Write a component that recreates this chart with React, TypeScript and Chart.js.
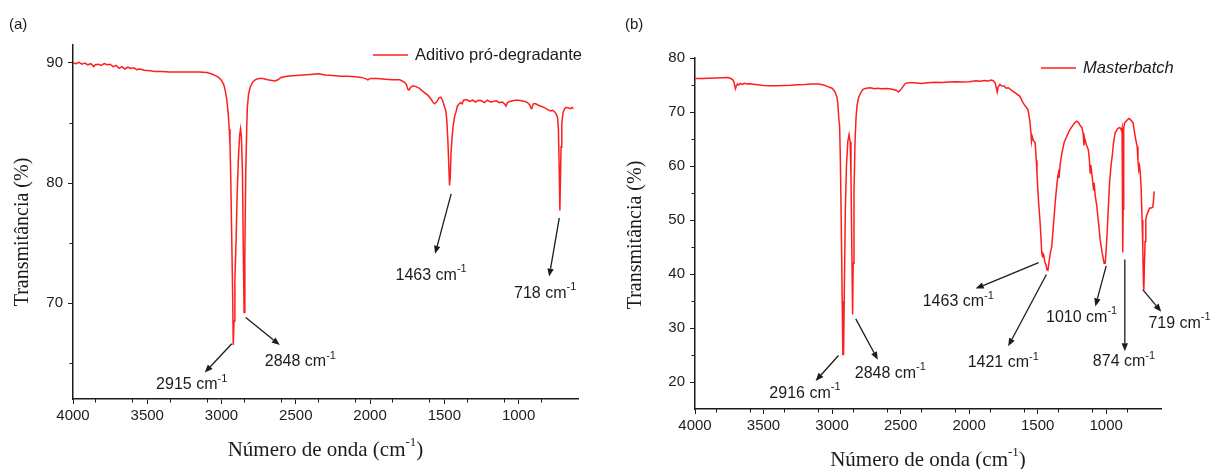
import React, { useEffect, useRef } from "react";
import { Chart, registerables } from "chart.js";

Chart.register(...registerables);

// ---------- Panel (a): Aditivo pró-degradante ----------
const waveA = [
  4000, 3980, 3960, 3940, 3920, 3900, 3880, 3860, 3850, 3830, 3810, 3790, 3770, 3750, 3730, 3710,
  3690, 3670, 3650, 3630, 3610, 3590, 3570, 3550, 3520, 3480, 3450, 3400, 3350, 3300, 3250, 3200,
  3150, 3100, 3070, 3040, 3020, 3000, 2985, 2975, 2965, 2955, 2948, 2943, 2938, 2931, 2925, 2921,
  2916, 2910, 2902, 2895, 2886, 2878, 2872, 2866, 2859, 2853, 2848, 2843, 2837, 2830, 2826, 2818,
  2807, 2790, 2774, 2750, 2720, 2690, 2660, 2640, 2620, 2600, 2560, 2500, 2450, 2400, 2350, 2300,
  2250, 2200, 2150, 2100, 2060, 2030, 2015, 2000, 1950, 1900, 1850, 1800, 1770, 1755, 1745, 1738,
  1725, 1710, 1695, 1670, 1640, 1610, 1590, 1575, 1565, 1550, 1535, 1524, 1512, 1500, 1490, 1483,
  1476, 1470, 1465, 1460, 1455, 1448, 1440, 1430, 1422, 1412, 1400, 1390, 1380, 1370, 1350, 1330,
  1310, 1290, 1270, 1250, 1230, 1210, 1190, 1170, 1150, 1130, 1110, 1095, 1085, 1075, 1060, 1040,
  1020, 1000, 980, 960, 940, 925, 915, 910, 900, 885, 870, 850, 830, 815, 800, 785,
  770, 755, 745, 737, 732, 727, 722, 718, 714, 709, 700, 690, 680, 665, 650, 640,
  635,
];
const transA = [
  90.0, 89.95, 90.05, 89.9, 90.0, 89.85, 89.95, 89.7, 89.85, 89.9, 89.8, 89.95, 89.85, 89.9, 89.7, 89.8,
  89.55, 89.7, 89.5, 89.65, 89.55, 89.6, 89.45, 89.5, 89.4, 89.35, 89.3, 89.3, 89.25, 89.25, 89.25, 89.25,
  89.25, 89.2, 89.1, 88.95, 88.8, 88.55, 88.2, 87.7, 87.0, 85.8, 84.5, 83.2, 80.5, 75.2, 70.5, 66.5,
  68.5, 72.0, 75.2, 79.0, 82.2, 84.0, 84.5, 83.8, 80.8, 74.0, 69.2, 74.0, 80.8, 84.8, 86.3, 87.4,
  88.0, 88.4, 88.6, 88.7, 88.7, 88.6, 88.55, 88.5, 88.6, 88.8, 88.9, 88.95, 89.0, 89.05, 89.1, 89.0,
  88.95, 88.9, 88.9, 88.85, 88.8, 88.7, 88.6, 88.7, 88.7, 88.65, 88.6, 88.6, 88.4, 88.2, 87.8, 87.75,
  88.0, 88.1, 88.05, 87.9, 87.6, 87.3, 87.0, 86.7, 86.6, 86.8, 87.1, 87.15, 86.9, 86.4, 86.0, 85.2,
  83.5, 81.5, 79.8, 80.5, 82.5, 83.8, 84.8, 85.6, 85.9, 86.4, 86.6, 86.7, 86.6, 86.9, 86.95, 86.8,
  86.9, 86.75, 86.9, 86.85, 86.7, 86.9, 86.75, 86.8, 86.85, 86.7, 86.75, 86.6, 86.4, 86.7, 86.8, 86.85,
  86.9, 86.9, 86.85, 86.8, 86.7, 86.5, 86.2, 86.3, 86.6, 86.6, 86.5, 86.4, 86.3, 86.2, 86.1, 86.0,
  86.05, 85.9, 85.7, 85.4, 84.5, 81.5, 77.7, 80.5, 83.0, 85.0, 85.9, 86.2, 86.3, 86.25, 86.2, 86.3,
  86.25,
];

// ---------- Panel (b): Masterbatch ----------
const waveB = [
  4000, 3950, 3900, 3850, 3800, 3760, 3740, 3725, 3715, 3705, 3698, 3690, 3680, 3670, 3655, 3640,
  3620, 3600, 3560, 3500, 3450, 3400, 3350, 3300, 3250, 3200, 3150, 3100, 3060, 3030, 3000, 2980,
  2965, 2958, 2950, 2945, 2940, 2933, 2926, 2921, 2916, 2910, 2903, 2895, 2885, 2876, 2868, 2862,
  2856, 2850, 2846, 2840, 2833, 2825, 2817, 2805, 2790, 2775, 2750, 2720, 2690, 2665, 2640, 2600,
  2560, 2530, 2515, 2500, 2480, 2465, 2440, 2400, 2350, 2300, 2250, 2200, 2150, 2100, 2050, 2000,
  1950, 1920, 1890, 1860, 1840, 1824, 1810, 1800, 1795, 1788, 1775, 1760, 1745, 1730, 1714, 1690,
  1660, 1630, 1606, 1590, 1570, 1558, 1550, 1545, 1540, 1532, 1518, 1510, 1505, 1495, 1482, 1470,
  1465, 1462, 1455, 1448, 1440, 1432, 1425, 1418, 1410, 1397, 1385, 1372, 1360, 1352, 1348, 1344,
  1335, 1323, 1305, 1287, 1270, 1250, 1230, 1214, 1200, 1190, 1177, 1168, 1162, 1158, 1145, 1130,
  1122, 1117, 1112, 1100, 1092, 1088, 1080, 1068, 1056, 1044, 1030, 1015, 1007, 1000, 992, 985,
  975, 965, 956, 948, 935, 920, 905, 895, 888, 884, 880, 878, 876, 872, 865, 855,
  840, 832, 820, 810, 803, 795, 785, 774, 768, 762, 757, 752, 745, 738, 733, 728,
  725, 721, 716, 711, 705, 695, 683, 670, 660, 655, 650,
];
const transB = [
  76.2, 76.2, 76.25, 76.3, 76.35, 76.4, 76.2, 76.0, 75.5, 74.3, 74.8, 75.2, 75.0, 75.3, 75.1, 75.3,
  75.2, 75.25, 75.1, 74.9, 74.85, 74.85, 74.9, 74.95, 75.05, 75.1, 75.2, 75.2, 75.0, 74.7, 74.4, 73.8,
  72.8, 71.5, 68.5, 67.5, 62.0, 50.0, 35.0, 25.1, 25.1, 38.0, 52.0, 60.0, 64.5, 65.8, 64.5, 58.0,
  45.0, 32.5, 42.0, 55.0, 64.0, 69.0, 71.3, 72.8, 73.6, 74.2, 74.4, 74.5, 74.3, 74.4, 74.3, 74.35,
  74.2, 74.0, 73.7, 74.1, 74.8, 75.3, 75.4, 75.4, 75.3, 75.4, 75.5, 75.45, 75.55, 75.6, 75.55, 75.6,
  75.8, 75.7, 75.85, 75.75, 75.9, 75.8, 75.4, 74.3, 73.7, 74.6, 75.1, 74.8, 74.8, 74.4, 74.5, 74.0,
  73.5, 72.9, 71.7, 71.1, 70.4, 68.5, 66.5, 64.6, 65.5, 64.8, 64.3, 61.0, 58.7, 54.0, 49.5, 44.0,
  43.2, 43.8, 43.5, 42.2, 41.8, 40.8, 40.7, 42.0, 43.5, 45.1, 49.0, 53.2, 56.5, 58.2, 58.7, 57.8,
  60.5, 62.4, 64.5, 65.5, 66.5, 67.3, 68.0, 68.3, 68.0, 67.5, 67.1, 66.0, 63.8, 65.2, 64.0, 63.0,
  61.0, 58.7, 60.2, 57.5, 55.5, 56.9, 54.5, 52.5, 49.5, 46.4, 44.0, 42.0, 42.0, 44.5, 48.0, 52.0,
  57.0, 60.0, 61.8, 64.0, 66.1, 66.8, 67.1, 67.0, 66.5, 67.0, 52.0, 44.0, 52.0, 67.0, 68.0, 68.3,
  68.7, 68.8, 68.5, 68.2, 67.9, 66.5, 65.0, 63.6, 61.0, 59.3, 60.0, 59.0, 56.0, 50.0, 45.0, 38.0,
  37.1, 42.0, 46.0, 50.0, 50.8, 51.5, 52.2, 52.2, 52.4, 53.5, 55.3,
];

// ---------- Tick labels ----------
const xTickValues = [4000, 3500, 3000, 2500, 2000, 1500, 1000];
const yTickValuesA = [70, 80, 90];
const yTickValuesB = [20, 30, 40, 50, 60, 70, 80];

// ---------- Peak annotations (data coordinates: wavenumber, transmittance) ----------
const peaksA = ["2915", "2848", "1463", "718"];
const arrowFromA = [[2931, 66.6], [2837, 68.8], [1454, 79.1], [726, 77.1]];
const arrowToA = [[3113, 64.2], [2608, 66.5], [1562, 74.1], [794, 72.2]];
const textAtA = [[3201, 63.2], [2469, 65.1], [1589, 72.3], [821, 70.8]];

const peaksB = ["2916", "2848", "1463", "1421", "1010", "874", "719"];
const arrowFromB = [[2953, 24.9], [2827, 31.7], [1493, 42.1], [1436, 39.9], [1000, 41.5], [864, 42.7], [733, 37.1]];
const arrowToB = [[3120, 20.2], [2666, 24.1], [1952, 37.3], [1715, 26.6], [1079, 34.0], [864, 25.7], [598, 33.0]];
const textAtB = [[3198, 17.9], [2575, 21.6], [2079, 34.8], [1751, 23.6], [1179, 32.0], [870, 23.8], [465, 30.9]];

const xRange = [600, 4000];
const yRangeA = [62, 91.5];
const yRangeB = [15, 80];

const SANS = '"Liberation Sans", Arial, sans-serif';
const SERIF = '"Liberation Serif", "Times New Roman", serif';
const RED = "#ff1e1e";
const INK = "#1c1c1c";

type Pt = number[];
type PanelCfg = {
  key: string;
  left: number;
  width: number;
  letter: string;
  letterX: number;
  legend: string;
  legendItalic: boolean;
  legendX: number;
  legendY: number;
  yAxisWidth: number;
  xAxisHeight: number;
  padTop: number;
  padRight: number;
  yMin: number;
  yMax: number;
  yTicks: number[];
  yMinorStep: number;
  yMajorStep: number;
  yTitleX: number;
  yTitleY: number;
  xTitleY: number;
  waves: number[];
  values: number[];
  peaks: string[];
  from: Pt[];
  to: Pt[];
  text: Pt[];
};

function drawParts(
  ctx: CanvasRenderingContext2D,
  parts: { t: string; size: number; rise: number; italic?: boolean }[],
  family: string,
  cx: number,
  cy: number
) {
  const widths = parts.map((p) => {
    ctx.font = `${p.italic ? "italic " : ""}${p.size}px ${family}`;
    return ctx.measureText(p.t).width;
  });
  const total = widths.reduce((a, b) => a + b, 0);
  let x = cx - total / 2;
  ctx.textAlign = "left";
  ctx.textBaseline = "middle";
  parts.forEach((p, i) => {
    ctx.font = `${p.italic ? "italic " : ""}${p.size}px ${family}`;
    ctx.fillText(p.t, x, cy - p.rise);
    x += widths[i];
  });
}

function makeOverlay(p: PanelCfg) {
  return {
    id: "overlay_" + p.key,
    afterDraw(chart: any) {
      const { ctx, chartArea: ca } = chart;
      const xs = chart.scales.x;
      const ys = chart.scales.y;
      ctx.save();
      ctx.strokeStyle = INK;
      ctx.fillStyle = INK;
      ctx.lineWidth = 1;

      // minor ticks
      for (let v = xRange[0]; v <= xRange[1]; v += 250) {
        if (v % 500 === 0 || v <= xRange[0]) continue;
        const px = Math.round(xs.getPixelForValue(v)) + 0.5;
        ctx.beginPath();
        ctx.moveTo(px, ca.bottom);
        ctx.lineTo(px, ca.bottom + 3.5);
        ctx.stroke();
      }
      const yStart = Math.ceil(p.yMin / p.yMinorStep) * p.yMinorStep;
      for (let v = yStart; v < p.yMax; v += p.yMinorStep) {
        if (v % p.yMajorStep === 0 || v <= p.yMin) continue;
        const py = Math.round(ys.getPixelForValue(v)) + 0.5;
        ctx.beginPath();
        ctx.moveTo(ca.left - 3.5, py);
        ctx.lineTo(ca.left, py);
        ctx.stroke();
      }

      // arrows
      ctx.lineWidth = 1.3;
      p.peaks.forEach((_, i) => {
        const x0 = xs.getPixelForValue(p.from[i][0]);
        const y0 = ys.getPixelForValue(p.from[i][1]);
        const x1 = xs.getPixelForValue(p.to[i][0]);
        const y1 = ys.getPixelForValue(p.to[i][1]);
        const ang = Math.atan2(y1 - y0, x1 - x0);
        const hl = 8;
        const hw = 3.2;
        const bx = x1 - hl * Math.cos(ang);
        const by = y1 - hl * Math.sin(ang);
        ctx.beginPath();
        ctx.moveTo(x0, y0);
        ctx.lineTo(bx, by);
        ctx.stroke();
        ctx.beginPath();
        ctx.moveTo(x1, y1);
        ctx.lineTo(bx + hw * Math.sin(ang), by - hw * Math.cos(ang));
        ctx.lineTo(bx - hw * Math.sin(ang), by + hw * Math.cos(ang));
        ctx.closePath();
        ctx.fill();
      });

      // peak labels
      p.peaks.forEach((label, i) => {
        const tx = xs.getPixelForValue(p.text[i][0]);
        const ty = ys.getPixelForValue(p.text[i][1]);
        drawParts(
          ctx,
          [
            { t: label + " cm", size: 16, rise: 0 },
            { t: "-1", size: 11, rise: 6 },
          ],
          SANS,
          tx,
          ty
        );
      });

      // legend
      ctx.strokeStyle = RED;
      ctx.lineWidth = 1.5;
      ctx.beginPath();
      ctx.moveTo(p.legendX - 42, p.legendY);
      ctx.lineTo(p.legendX - 7, p.legendY);
      ctx.stroke();
      ctx.fillStyle = INK;
      ctx.textAlign = "left";
      ctx.textBaseline = "middle";
      ctx.font = `${p.legendItalic ? "italic " : ""}16.5px ${SANS}`;
      ctx.fillText(p.legend, p.legendX, p.legendY);

      // panel letter
      ctx.font = `15px ${SANS}`;
      ctx.fillText(p.letter, p.letterX, 25);

      // axis titles
      const xc = (ca.left + ca.right) / 2;
      drawParts(
        ctx,
        [
          { t: "Número de onda (cm", size: 21, rise: 0 },
          { t: "-1", size: 13, rise: 7 },
          { t: ")", size: 21, rise: 0 },
        ],
        SERIF,
        xc,
        p.xTitleY
      );
      ctx.save();
      ctx.translate(p.yTitleX, p.yTitleY);
      ctx.rotate(-Math.PI / 2);
      ctx.font = `20px ${SERIF}`;
      ctx.textAlign = "center";
      ctx.textBaseline = "middle";
      ctx.fillText("Transmitância (%)", 0, 0);
      ctx.restore();

      ctx.restore();
    },
  };
}

const panelA: PanelCfg = {
  key: "a",
  left: 0,
  width: 605,
  letter: "(a)",
  letterX: 9,
  legend: "Aditivo pró-degradante",
  legendItalic: false,
  legendX: 415,
  legendY: 55,
  yAxisWidth: 73,
  xAxisHeight: 70,
  padTop: 45,
  padRight: 27,
  yMin: yRangeA[0],
  yMax: yRangeA[1],
  yTicks: yTickValuesA,
  yMinorStep: 5,
  yMajorStep: 10,
  yTitleX: 23,
  yTitleY: 232,
  xTitleY: 450,
  waves: waveA,
  values: transA,
  peaks: peaksA,
  from: arrowFromA,
  to: arrowToA,
  text: textAtA,
};

const panelB: PanelCfg = {
  key: "b",
  left: 605,
  width: 606,
  letter: "(b)",
  letterX: 20,
  legend: "Masterbatch",
  legendItalic: true,
  legendX: 478,
  legendY: 68,
  yAxisWidth: 90,
  xAxisHeight: 60,
  padTop: 58,
  padRight: 50,
  yMin: yRangeB[0],
  yMax: yRangeB[1],
  yTicks: yTickValuesB,
  yMinorStep: 5,
  yMajorStep: 10,
  yTitleX: 31,
  yTitleY: 235,
  xTitleY: 460,
  waves: waveB,
  values: transB,
  peaks: peaksB,
  from: arrowFromB,
  to: arrowToB,
  text: textAtB,
};

function SpectrumPanel({ cfg }: { cfg: PanelCfg }) {
  const ref = useRef<HTMLCanvasElement>(null);
  useEffect(() => {
    if (!ref.current) return;
    const tickFont = { family: SANS, size: 15 };
    const chart = new Chart(ref.current, {
      type: "line",
      data: {
        datasets: [
          {
            label: cfg.legend,
            data: cfg.waves.map((w, i) => ({ x: w, y: cfg.values[i] })),
            borderColor: RED,
            borderWidth: 1.5,
            pointRadius: 0,
            tension: 0,
            fill: false,
          },
        ],
      },
      options: {
        responsive: false,
        maintainAspectRatio: false,
        animation: false,
        devicePixelRatio: 1,
        layout: { padding: { top: cfg.padTop, right: cfg.padRight, left: 0, bottom: 0 } },
        plugins: { legend: { display: false }, tooltip: { enabled: false }, title: { display: false } },
        scales: {
          x: {
            type: "linear",
            reverse: true,
            min: xRange[0],
            max: xRange[1],
            afterBuildTicks: (s: any) => {
              s.ticks = xTickValues.map((v) => ({ value: v }));
            },
            ticks: {
              autoSkip: false,
              maxRotation: 0,
              minRotation: 0,
              color: INK,
              font: tickFont,
              padding: 3,
              callback: (v: any) => String(v),
            },
            grid: { display: true, drawOnChartArea: false, drawTicks: true, tickLength: 5, color: INK, tickColor: INK },
            border: { display: true, color: INK, width: 1.5 },
            afterFit: (s: any) => {
              s.height = cfg.xAxisHeight;
            },
          },
          y: {
            type: "linear",
            min: cfg.yMin,
            max: cfg.yMax,
            afterBuildTicks: (s: any) => {
              s.ticks = cfg.yTicks.map((v) => ({ value: v }));
            },
            ticks: {
              autoSkip: false,
              color: INK,
              font: tickFont,
              padding: 5,
              callback: (v: any) => String(v),
            },
            grid: { display: true, drawOnChartArea: false, drawTicks: true, tickLength: 5, color: INK, tickColor: INK },
            border: { display: true, color: INK, width: 1.5 },
            afterFit: (s: any) => {
              s.width = cfg.yAxisWidth;
            },
          },
        },
      },
      plugins: [makeOverlay(cfg)],
    } as any);
    return () => chart.destroy();
  }, [cfg]);
  return (
    <canvas
      ref={ref}
      width={cfg.width}
      height={469}
      style={{ position: "absolute", left: cfg.left, top: 0, width: cfg.width, height: 469 }}
    />
  );
}

export default function App() {
  return (
    <div style={{ position: "fixed", left: 0, top: 0, width: 1211, height: 469, background: "#fff", overflow: "hidden" }}>
      <SpectrumPanel cfg={panelA} />
      <SpectrumPanel cfg={panelB} />
    </div>
  );
}
